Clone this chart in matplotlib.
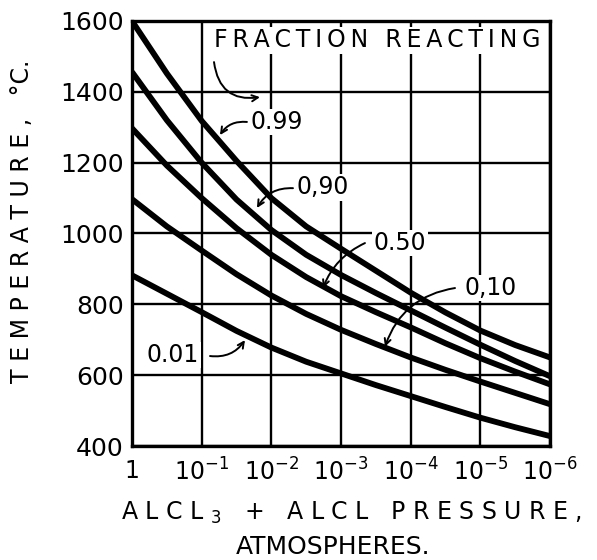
import numpy as np
import matplotlib.pyplot as plt

# pressure (atm) at half-decade steps and temperature (deg C) for each fraction reacting
pressure = [1, 10**-0.5, 1e-1, 10**-1.5, 1e-2, 10**-2.5, 1e-3,
            10**-3.5, 1e-4, 10**-4.5, 1e-5, 10**-5.5, 1e-6]
t_099 = [1600, 1452, 1318, 1205, 1100, 1020, 957, 895, 833, 777, 726, 685, 650]
t_090 = [1456, 1320, 1200, 1096, 1010, 940, 883, 832, 783, 734, 686, 640, 597]
t_050 = [1297, 1192, 1100, 1015, 940, 877, 823, 778, 735, 690, 648, 610, 574]
t_010 = [1097, 1020, 952, 885, 825, 773, 728, 688, 650, 615, 582, 550, 518]
t_001 = [882, 830, 778, 725, 678, 638, 605, 572, 541, 510, 480, 453, 428]

x_ticks = [1, 1e-1, 1e-2, 1e-3, 1e-4, 1e-5, 1e-6]
x_ticklabels = ['1', '$10^{-1}$', '$10^{-2}$', '$10^{-3}$', '$10^{-4}$', '$10^{-5}$', '$10^{-6}$']
y_ticks = [400, 600, 800, 1000, 1200, 1400, 1600]

plt.rcParams['font.family'] = ['DejaVu Sans']
plt.rcParams['mathtext.fontset'] = 'dejavusans'

fig = plt.figure(figsize=(5.97, 5.60), dpi=100)
ax = fig.add_axes([132 / 597, 1 - 446 / 560, 418 / 597, 425 / 560])

ax.set_xscale('log')
ax.set_xlim(1, 1e-6)
ax.set_ylim(400, 1600)
ax.set_xticks(x_ticks)
ax.set_xticklabels(x_ticklabels)
ax.minorticks_off()
ax.set_yticks(y_ticks)
ax.tick_params(length=0, labelsize=18, pad=6)
ax.tick_params(axis='x', labelsize=17, pad=9)
ax.grid(True, color='black', linewidth=1.7)
for s in ax.spines.values():
    s.set_linewidth(2.4)

for t in [t_099, t_090, t_050, t_010, t_001]:
    ax.plot(pressure, t, color='black', linewidth=4.2, solid_capstyle='butt')

thin = '\u2009'
box = dict(facecolor='white', edgecolor='none', pad=1.0)
ax.text(3.0e-4, 1545, thin.join('FRACTION REACTING'), fontsize=17,
        ha='center', va='center', bbox=box)
ax.text(0.0202, 1315, '0.99', fontsize=17, ha='left', va='center', bbox=box)
ax.text(0.0043, 1131, '0,90', fontsize=17, ha='left', va='center', bbox=box)
ax.text(3.4e-4, 973, '0.50', fontsize=17, ha='left', va='center', bbox=box)
ax.text(1.66e-5, 846, '0,10', fontsize=17, ha='left', va='center', bbox=box)
ax.text(0.61, 657, '0.01', fontsize=17, ha='left', va='center', bbox=box)

arr = dict(arrowstyle='->', color='black', linewidth=1.4, mutation_scale=11,
           shrinkA=0, shrinkB=0)
ax.annotate('', xy=(0.01455, 1385), xytext=(0.0665, 1484),
            arrowprops=dict(arr, connectionstyle='arc3,rad=0.5'))
ax.annotate('', xy=(0.0546, 1278), xytext=(0.0224, 1315),
            arrowprops=dict(arr, connectionstyle='arc3,rad=0.3'))
ax.annotate('', xy=(0.01607, 1072), xytext=(0.00489, 1128),
            arrowprops=dict(arr, connectionstyle='arc3,rad=0.3'))
ax.annotate('', xy=(1.815e-3, 846), xytext=(4.53e-4, 973),
            arrowprops=dict(arr, connectionstyle='arc3,rad=0.2'))
ax.annotate('', xy=(2.34e-4, 680), xytext=(2.31e-5, 846),
            arrowprops=dict(arr, connectionstyle='arc3,rad=0.3'))
ax.annotate('', xy=(0.0239, 699), xytext=(0.0759, 654),
            arrowprops=dict(arr, connectionstyle='arc3,rad=0.3'))

fig.text(22 / 597, 0.605, 'T E M P E R A T U R E ,   °C.', fontsize=17,
         rotation=90, ha='center', va='center')
fig.text(0.588, 0.084, 'A L C L $_{3}$   +   A L C L   P R E S S U R E ,', fontsize=17,
         ha='center', va='center')
fig.text(0.558, 0.023, 'ATMOSPHERES.', fontsize=18, ha='center', va='center')

fig.savefig('out.png', dpi=100)
